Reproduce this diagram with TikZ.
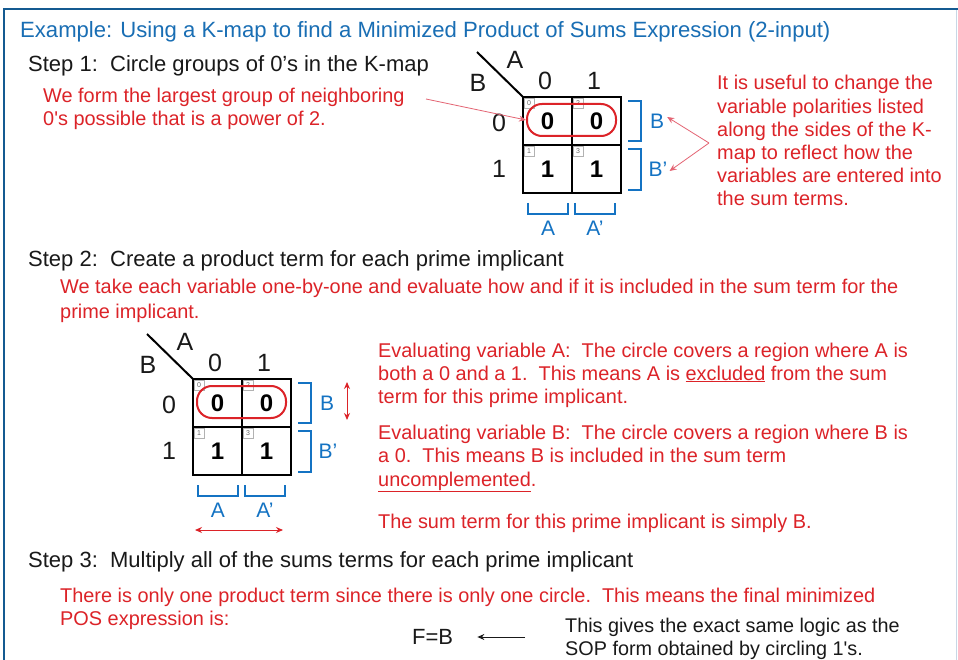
\documentclass[tikz,border=0pt]{standalone}
\usepackage{fontspec}
\setmainfont{Liberation Sans}
\usetikzlibrary{arrows.meta}
\definecolor{ttl}{RGB}{25,110,180}
\definecolor{brk}{RGB}{20,115,195}
\definecolor{rd}{RGB}{220,35,40}
\definecolor{pk}{RGB}{228,100,115}
\definecolor{frm}{RGB}{20,90,145}
\definecolor{frmlt}{RGB}{200,215,230}
\definecolor{ink}{RGB}{25,25,25}
\newcommand\drawkmap[1]{%
  \node[cell] (#1c00) at (24.5,24) {0};
  \node[cell] (#1c01) at (73.5,24) {0};
  \node[cell] (#1c10) at (24.5,72) {1};
  \node[cell] (#1c11) at (73.5,72) {1};
  \node[idx] (#1i0) at (6,6) {0};
  \node[idx] (#1i2) at (55,6) {2};
  \node[idx] (#1i1) at (6,54) {1};
  \node[idx] (#1i3) at (55,54) {3};
  \coordinate (#1corner) at (0,0);
  \coordinate (#1diag) at (-46,-45);
  \draw[kline] (#1diag) -- (#1corner);
  \node[hdr] (#1A) at (-8,-37) {A};
  \node[hdr] (#1B) at (-45,-14) {B};
  \node[hdr] (#1h0) at (22,-16) {0};
  \node[hdr] (#1h1) at (71,-16) {1};
  \node[hdr] (#1r0) at (-24,26) {0};
  \node[hdr] (#1r1) at (-24,72) {1};
  \node[oval] (#1oval) at (48.5,23) {};
  \draw[bline] (105,4) -- (118,4) -- (118,44) -- (105,44);
  \draw[bline] (105,52) -- (118,52) -- (118,93) -- (105,93);
  \draw[bline] (5,106) -- (5,117) -- (45,117) -- (45,106);
  \draw[bline] (52,106) -- (52,117) -- (92,117) -- (92,106);
  \node[blab] (#1bB) at (134,24) {B};
  \node[blab] (#1bBp) at (135,72) {B'};
  \node[blab] (#1bA) at (25,131) {A};
  \node[blab] (#1bAp) at (72,131) {A'};
}
\begin{document}
\begin{tikzpicture}[x=1pt,y=-1pt,
  txt/.style={anchor=base west, inner sep=0pt, text=ink, font=\fontsize{22}{24}\selectfont},
  rtxt/.style={anchor=base west, inner sep=0pt, text=rd, font=\fontsize{19.9}{22}\selectfont},
  ntxt/.style={anchor=base west, inner sep=0pt, text=ink, font=\fontsize{19.8}{22}\selectfont},
  cell/.style={draw=black, line width=2.4pt, minimum width=49pt, minimum height=48pt, inner sep=0pt, font=\fontsize{24}{26}\selectfont\bfseries},
  idx/.style={draw=gray!60, line width=0.6pt, minimum size=10pt, inner sep=0pt, fill=white, text=gray!80!black, font=\fontsize{7}{7}\selectfont},
  hdr/.style={inner sep=0pt, text=ink, font=\fontsize{25}{27}\selectfont},
  blab/.style={inner sep=0pt, text=brk, font=\fontsize{21}{23}\selectfont},
  kline/.style={draw=black, line width=2pt},
  bline/.style={draw=brk, line width=2.2pt},
  oval/.style={draw=rd, line width=2pt, minimum width=89pt, minimum height=32pt, rounded corners=15pt, inner sep=0pt},
  pkarrow/.style={draw=pk, line width=0.8pt, -{Stealth[length=7pt,width=6pt]}},
  rdarrow/.style={draw=rd, line width=1pt, {Stealth[length=7pt,width=6pt]}-{Stealth[length=7pt,width=6pt]}},
  bkarrow/.style={draw=ink, line width=0.9pt, -{Stealth[length=7pt,width=6pt]}}
]
\useasboundingbox (0,0) rectangle (958,660);
\fill[white] (0,0) rectangle (958,660);
% frame
\draw[frmlt, line width=1pt] (956,9) -- (956,660);
\draw[frm, line width=2.6pt] (3,9) -- (958,9);
\draw[frm, line width=2.6pt] (4,9) -- (4,660);

% title
\node[anchor=base west, inner sep=0pt, text=ttl, font=\fontsize{22.1}{24}\selectfont] (title) at (20,38) {Example: Using a K-map to find a Minimized Product of Sums Expression (2-input)};

% step 1
\node[txt] (s1) at (28,72) {Step 1:\ \ Circle groups of 0’s in the K-map};
\node[rtxt] (s1a) at (43,103) {We form the largest group of neighboring};
\node[rtxt] (s1b) at (43,126) {0\textquotesingle s possible that is a power of 2.};

\begin{scope}[shift={(523,97)}]
\drawkmap{ka}
\end{scope}

\coordinate (p1) at (426,99);
\draw[pkarrow] (p1) -- (kaoval.west);

\node[rtxt] (r1) at (717,90) {It is useful to change the};
\node[rtxt] (r2) at (717,114) {variable polarities listed};
\node[rtxt] (r3) at (717,137) {along the sides of the K-};
\node[rtxt] (r4) at (717,160) {map to reflect how the};
\node[rtxt] (r5) at (717,183) {variables are entered into};
\node[rtxt] (r6) at (717,206) {the sum terms.};
\coordinate (p2) at (709,143);
\draw[pkarrow] (p2) -- ([xshift=3pt,yshift=4pt]kabB.east);
\draw[pkarrow] (p2) -- ([xshift=2pt,yshift=-2pt]kabBp.east);

% step 2
\node[txt] (s2) at (28,266) {Step 2:\ \ Create a product term for each prime implicant};
\node[rtxt] (s2a) at (60,294) {We take each variable one-by-one and evaluate how and if it is included in the sum term for the};
\node[rtxt] (s2b) at (60,318) {prime implicant.};

\begin{scope}[shift={(193,379)}]
\drawkmap{kb}
\coordinate (va) at (154,3);
\coordinate (vb) at (154,41);
\coordinate (ha) at (2,151);
\coordinate (hb) at (90,151);
\draw[rdarrow] (va) -- (vb);
\draw[rdarrow] (ha) -- (hb);
\end{scope}

\node[rtxt] (e1) at (378,357) {Evaluating variable A:\ \ The circle covers a region where A is};
\node[rtxt] (e2) at (378,380) {both a 0 and a 1.\ \ This means A is \underline{excluded} from the sum};
\node[rtxt] (e3) at (378,403) {term for this prime implicant.};
\node[rtxt] (e4) at (378,439) {Evaluating variable B:\ \ The circle covers a region where B is};
\node[rtxt] (e5) at (378,462) {a 0.\ \ This means B is included in the sum term};
\node[rtxt] (e6) at (378,486) {\underline{uncomplemented}.};
\node[rtxt] (e7) at (378,528) {The sum term for this prime implicant is simply B.};

% step 3
\node[txt] (s3) at (28,567) {Step 3:\ \ Multiply all of the sums terms for each prime implicant};
\node[rtxt] (s3a) at (60,602) {There is only one product term since there is only one circle.\ \ This means the final minimized};
\node[rtxt] (s3b) at (60,625) {POS expression is:};
\node[anchor=base west, inner sep=0pt, text=ink, font=\fontsize{22}{24}\selectfont] (fb) at (412,644) {F=B};
\node[ntxt] (n1) at (565,632) {This gives the exact same logic as the};
\node[ntxt] (n2) at (565,655) {SOP form obtained by circling 1\textquotesingle s.};
\coordinate (fa) at (525,637);
\draw[bkarrow] (fa) -- ([xshift=24pt]fb.east |- fa);
\end{tikzpicture}
\end{document}
